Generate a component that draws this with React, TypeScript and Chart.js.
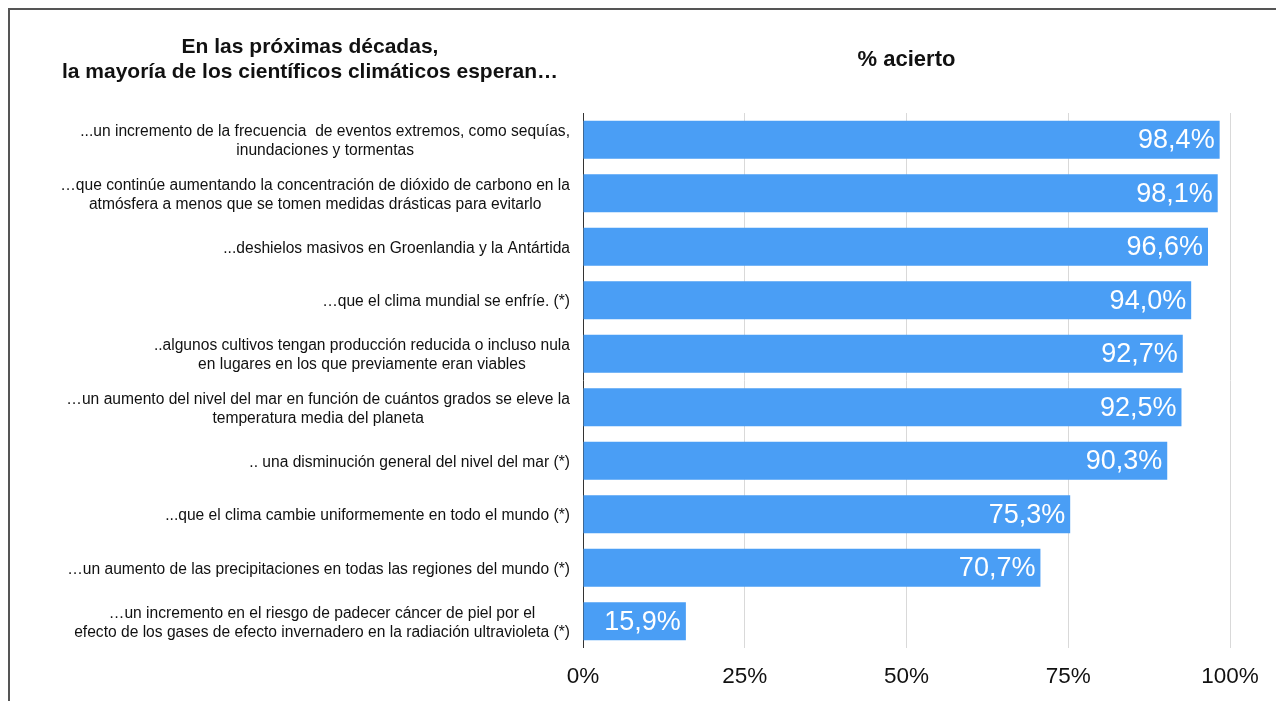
import React, { useEffect, useRef } from "react";
import { Chart, registerables } from "chart.js";

Chart.register(...registerables);

const FAMILY = '"Liberation Sans", Arial, Helvetica, sans-serif';

const categories: string[][] = [
  ["...un incremento de la frecuencia  de eventos extremos, como sequías,", "inundaciones y tormentas"],
  ["…que continúe aumentando la concentración de dióxido de carbono en la", "atmósfera a menos que se tomen medidas drásticas para evitarlo"],
  ["...deshielos masivos en Groenlandia y la Antártida"],
  ["…que el clima mundial se enfríe. (*)"],
  ["..algunos cultivos tengan producción reducida o incluso nula", "en lugares en los que previamente eran viables"],
  ["…un aumento del nivel del mar en función de cuántos grados se eleve la", "temperatura media del planeta"],
  [".. una disminución general del nivel del mar (*)"],
  ["...que el clima cambie uniformemente en todo el mundo (*)"],
  ["…un aumento de las precipitaciones en todas las regiones del mundo (*)"],
  ["…un incremento en el riesgo de padecer cáncer de piel por el", "efecto de los gases de efecto invernadero en la radiación ultravioleta (*)"],
];

const values: number[] = [98.4, 98.1, 96.6, 94.0, 92.7, 92.5, 90.3, 75.3, 70.7, 15.9];
const valueLabels: string[] = ["98,4%", "98,1%", "96,6%", "94,0%", "92,7%", "92,5%", "90,3%", "75,3%", "70,7%", "15,9%"];
const xTicks: number[] = [0, 25, 50, 75, 100];
const leftTitle: string[] = ["En las próximas décadas,", "la mayoría de los científicos climáticos esperan…"];
const rightTitle = "% acierto";

const textPlugin = {
  id: "customText",
  afterDatasetsDraw(chart: any) {
    const ctx = chart.ctx as CanvasRenderingContext2D;
    const meta = chart.getDatasetMeta(0);
    const { left, right } = chart.chartArea;
    ctx.save();
    // value labels
    ctx.font = `27px ${FAMILY}`;
    ctx.fillStyle = "#ffffff";
    ctx.textAlign = "right";
    ctx.textBaseline = "middle";
    meta.data.forEach((bar: any, i: number) => {
      ctx.fillText(valueLabels[i], bar.x - 5, bar.y + 1);
    });
    // category labels
    ctx.font = `15.6px ${FAMILY}`;
    ctx.fillStyle = "#111111";
    ctx.textAlign = "center";
    const yScale = chart.scales.y;
    categories.forEach((lines, i) => {
      const y = yScale.getPixelForValue(i) + 1.5;
      const w = Math.max(...lines.map((l) => ctx.measureText(l).width));
      const cx = left - 13 - w / 2;
      const lh = 19;
      lines.forEach((l, j) => {
        ctx.fillText(l, cx, y + (j - (lines.length - 1) / 2) * lh);
      });
    });
    // titles
    ctx.font = `bold 21px ${FAMILY}`;
    ctx.fillStyle = "#111111";
    ctx.textAlign = "center";
    leftTitle.forEach((l, j) => {
      ctx.fillText(l, 300, 37 + j * 25);
    });
    ctx.font = `bold 22px ${FAMILY}`;
    ctx.fillText(rightTitle, (left + right) / 2, 50);
    ctx.restore();
  },
};

export default function App() {
  const ref = useRef<HTMLCanvasElement | null>(null);
  useEffect(() => {
    if (!ref.current) return;
    const chart = new Chart(ref.current, {
      type: "bar",
      data: {
        labels: categories as any,
        datasets: [
          {
            data: values,
            backgroundColor: "#4A9EF5",
            borderWidth: 0,
            barPercentage: 0.71,
            categoryPercentage: 1,
          },
        ],
      },
      options: {
        indexAxis: "y",
        animation: false,
        responsive: false,
        devicePixelRatio: 1,
        layout: { padding: { left: 573, top: 103, right: 46, bottom: 0 } },
        plugins: {
          legend: { display: false },
          tooltip: { enabled: false },
          title: { display: false },
        },
        scales: {
          y: { type: "category", display: false },
          x: {
            type: "linear",
            min: 0,
            max: 100,
            afterBuildTicks: (scale: any) => {
              scale.ticks = xTicks.map((v) => ({ value: v }));
            },
            afterFit: (scale: any) => {
              scale.height = 53;
            },
            ticks: {
              callback: (v: any) => `${v}%`,
              font: { size: 22.5, family: FAMILY },
              color: "#111111",
              padding: 15,
            },
            border: { display: false },
            grid: {
              drawTicks: false,
              color: (c: any) => (c.tick && c.tick.value === 0 ? "#333333" : "#d9d9d9"),
              lineWidth: 1,
            },
          },
        },
      },
      plugins: [textPlugin],
    });
    return () => chart.destroy();
  }, []);
  return (
    <div
      style={{
        position: "fixed",
        left: 8,
        top: 8,
        width: 1268,
        height: 693,
        borderTop: "2px solid #555",
        borderLeft: "2px solid #555",
        boxSizing: "border-box",
        background: "#fff",
      }}
    >
      <canvas ref={ref} width={1266} height={691} style={{ display: "block", width: 1266, height: 691 }} />
    </div>
  );
}
